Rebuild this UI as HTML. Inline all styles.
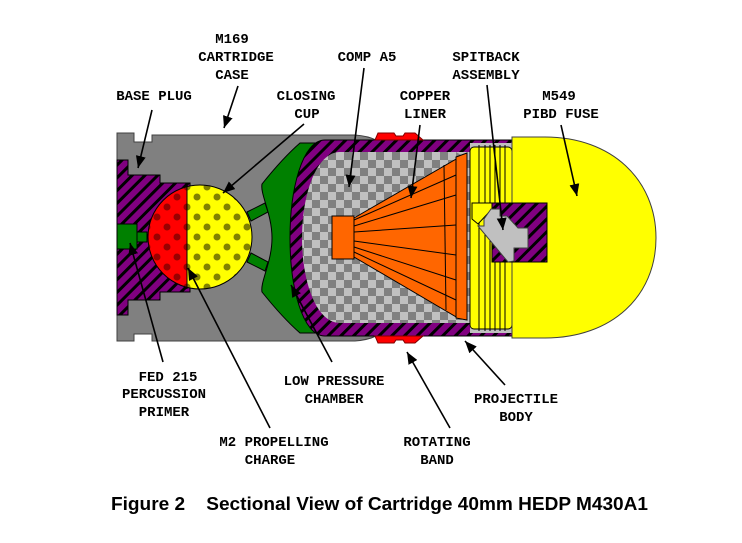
<!DOCTYPE html>
<html><head><meta charset="utf-8"><style>
html,body{margin:0;padding:0;background:#fff;}
svg{display:block;}
.t{font-family:"Liberation Mono",monospace;font-weight:bold;font-size:14px;fill:#000;text-anchor:middle;}
</style></head><body>
<svg width="742" height="543" viewBox="0 0 742 543" xmlns="http://www.w3.org/2000/svg">
<defs>
<pattern id="hatch" width="9" height="9" patternUnits="userSpaceOnUse" patternTransform="rotate(-45)">
<rect width="9" height="9" fill="#800080"/><rect width="9" height="3" fill="#000"/>
</pattern>
<pattern id="chk" width="16" height="16" patternUnits="userSpaceOnUse">
<rect width="16" height="16" fill="#c0c0c0"/><rect width="8" height="8" fill="#808080"/><rect x="8" y="8" width="8" height="8" fill="#808080"/>
</pattern>
<pattern id="rdots" width="20" height="20" patternUnits="userSpaceOnUse" x="2" y="2">
<rect width="20" height="20" fill="#ff0000"/><circle cx="5" cy="5" r="3.5" fill="#990000"/><circle cx="15" cy="15" r="3.5" fill="#990000"/>
</pattern>
<pattern id="ydots" width="20" height="20" patternUnits="userSpaceOnUse" x="2" y="2">
<rect width="20" height="20" fill="#ffff00"/><circle cx="5" cy="5" r="3.5" fill="#808000"/><circle cx="15" cy="15" r="3.5" fill="#808000"/>
</pattern>
<marker id="ah" markerWidth="12" markerHeight="10" refX="12" refY="5" orient="auto" markerUnits="userSpaceOnUse">
<path d="M0,0 L12,5 L0,10 Z" fill="#000"/>
</marker>
</defs>

<path d="M117,133 L134,133 L134,142 L152,142 L152,135 L355,135 Q368,136 376,140 L376,336 Q368,340 355,341 L152,341 L152,334 L134,334 L134,341 L117,341 Z" fill="#808080" stroke="#404040" stroke-width="1"/>
<path d="M117,160 L128,160 L128,175 L160,175 L160,183 L190,183 L190,292 L160,292 L160,300 L128,300 L128,315 L117,315 Z" fill="url(#hatch)" stroke="#000" stroke-width="1"/>
<rect x="117" y="224" width="20" height="25" fill="#008000" stroke="#000"/>
<rect x="137" y="232" width="10" height="10" fill="#008000" stroke="#000"/>
<clipPath id="sph"><circle cx="200" cy="237" r="52"/></clipPath>
<g clip-path="url(#sph)">
<rect x="140" y="180" width="47" height="115" fill="url(#rdots)"/>
<rect x="187" y="180" width="70" height="115" fill="url(#ydots)"/>
</g>
<circle cx="200" cy="237" r="52" fill="none" stroke="#000"/>
<line x1="187" y1="185" x2="187" y2="289" stroke="#000"/>
<path d="M247,212 L265,203 L268,212 L251,221 Z" fill="#008000" stroke="#000"/>
<path d="M247,262 L265,271 L268,262 L251,253 Z" fill="#008000" stroke="#000"/>
<path d="M300,143 L320,143 C298,162 292,200 292,238 C292,276 298,314 320,333 L300,333 C285,320 270,302 262,292 C260,282 272,262 272,238 C272,214 260,194 262,184 C270,174 285,156 300,143 Z" fill="#008000" stroke="#000"/>
<path d="M512,140 L325,140 C302,140 290,190 290,238 C290,286 302,336 325,336 L512,336 Z" fill="url(#hatch)" stroke="#000"/>
<path d="M470,152 L340,152 C316,152 302,195 302,238 C302,281 316,323 340,323 L470,323 Z" fill="url(#chk)"/>
<path d="M456,152 L470,152 L470,160 Z M456,323 L470,323 L470,315 Z" fill="#c0c0c0"/>
<path d="M375,140 L378,133 L394,133 L396,136 L403,136 L405,133 L415,133 L423,140 Z" fill="#ff0000" stroke="#800000"/>
<path d="M375,336 L378,343 L394,343 L396,340 L403,340 L405,343 L415,343 L423,336 Z" fill="#ff0000" stroke="#800000"/>
<path d="M354,218 L458,158 L458,318 L354,257 Z" fill="#ff6600" stroke="#000"/>
<g stroke="#000" stroke-width="1">
<line x1="354" y1="220" x2="456" y2="175"/><line x1="354" y1="226" x2="456" y2="195"/>
<line x1="354" y1="232" x2="456" y2="225"/><line x1="354" y1="241" x2="456" y2="255"/>
<line x1="354" y1="247" x2="456" y2="280"/><line x1="354" y1="252" x2="456" y2="300"/>
<line x1="444" y1="165" x2="446" y2="310"/>
</g>
<path d="M456,157 L467,153 L467,320 L456,318 Z" fill="#ff6600" stroke="#000"/>
<rect x="332" y="216" width="22" height="43" fill="#ff6600" stroke="#000"/>
<rect x="470" y="143" width="42" height="190" fill="#c0c0c0"/>
<rect x="470" y="147" width="42" height="182" rx="4" fill="#ffff00" stroke="#000"/>
<g stroke="#000"><line x1="479" y1="145" x2="479" y2="331"/><line x1="485" y1="145" x2="485" y2="331"/><line x1="490" y1="145" x2="490" y2="331"/><line x1="495" y1="145" x2="495" y2="331"/><line x1="500" y1="145" x2="500" y2="331"/><line x1="505" y1="145" x2="505" y2="331"/></g>
<path d="M512,137 L545,137 C612,137 656,180 656,238 C656,296 612,338 545,338 L512,338 Z" fill="#ffff00" stroke="#404040"/>
<rect x="492" y="203" width="55" height="59" fill="url(#hatch)" stroke="#000"/>
<path d="M472,203 L492,203 L492,209 L478,224 L472,219 Z" fill="#ffff00" stroke="#000"/>
<path d="M478,226 L484,226 L484,219 L491,209 L500,209 L500,216 L507,216 L518,228 L528,228 L528,248 L514,248 L514,261 L508,262 Z" fill="#c0c0c0" stroke="#404040"/>

<g class="t">
<text x="232" y="43" class="t">M169</text>
<text x="236" y="61" class="t">CARTRIDGE</text>
<text x="232" y="79" class="t">CASE</text>
<text x="154" y="100" class="t">BASE PLUG</text>
<text x="306" y="100" class="t">CLOSING</text>
<text x="307" y="118" class="t">CUP</text>
<text x="367" y="61" class="t">COMP A5</text>
<text x="486" y="61" class="t">SPITBACK</text>
<text x="486" y="79" class="t">ASSEMBLY</text>
<text x="425" y="100" class="t">COPPER</text>
<text x="425" y="118" class="t">LINER</text>
<text x="559" y="100" class="t">M549</text>
<text x="561" y="118" class="t">PIBD FUSE</text>
<text x="168" y="381" class="t">FED 215</text>
<text x="164" y="398" class="t">PERCUSSION</text>
<text x="164" y="416" class="t">PRIMER</text>
<text x="334" y="385" class="t">LOW PRESSURE</text>
<text x="334" y="403" class="t">CHAMBER</text>
<text x="274" y="446" class="t">M2 PROPELLING</text>
<text x="270" y="464" class="t">CHARGE</text>
<text x="437" y="446" class="t">ROTATING</text>
<text x="437" y="464" class="t">BAND</text>
<text x="516" y="403" class="t">PROJECTILE</text>
<text x="516" y="421" class="t">BODY</text>
</g>

<g stroke="#000" stroke-width="1.6" fill="none" marker-end="url(#ah)">
<line x1="152" y1="110" x2="138" y2="168"/>
<line x1="238" y1="86" x2="224" y2="128"/>
<line x1="304" y1="124" x2="223" y2="193"/>
<line x1="364" y1="68" x2="349" y2="187"/>
<line x1="420" y1="125" x2="411" y2="198"/>
<line x1="487" y1="85" x2="503" y2="230"/>
<line x1="561" y1="125" x2="577" y2="196"/>
<line x1="163" y1="362" x2="130" y2="243"/>
<line x1="270" y1="428" x2="188" y2="268"/>
<line x1="332" y1="362" x2="291" y2="285"/>
<line x1="450" y1="428" x2="407" y2="352"/>
<line x1="505" y1="385" x2="465" y2="341"/>
</g>

<text x="111" y="510" textLength="537" lengthAdjust="spacingAndGlyphs" style="font-family:'Liberation Sans',sans-serif;font-weight:bold;font-size:18px" xml:space="preserve">Figure 2    Sectional View of Cartridge 40mm HEDP M430A1</text>
</svg>
</body></html>
